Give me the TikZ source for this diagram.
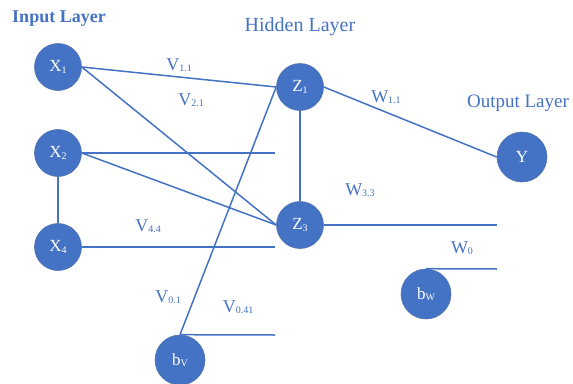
\documentclass[tikz,border=0pt]{standalone}
\usepackage{fontspec}
\setmainfont{Liberation Serif}
\definecolor{nnblue}{HTML}{4472C4}
\newcommand{\sbx}[1]{\raisebox{-1.5pt}{\fontsize{10}{10}\selectfont #1}}
\begin{document}
\begin{tikzpicture}[x=1pt,y=-1pt,
  neuron/.style={circle,fill=nnblue,draw=nnblue!70!gray,line width=0.6pt,minimum size=47pt,inner sep=0pt,text=white,font=\fontsize{17}{18}\selectfont},
  conn/.style={draw=nnblue,line width=1.5pt},
  title/.style={text=nnblue,font=\fontsize{20}{22}\selectfont},
  wlabel/.style={text=nnblue,font=\fontsize{18}{19}\selectfont,inner sep=0pt}]
\useasboundingbox (0,0) rectangle (573,383);
% layer titles
\node[title,font=\fontsize{18}{20}\selectfont\bfseries] (tin) at (59,19) {Input Layer};
\node[title] (thid) at (300,27) {Hidden Layer};
\node[title,font=\fontsize{19}{21}\selectfont,inner sep=1pt] (tout) at (518,103) {Output Layer};
% neurons
\node[neuron] (X1) at (58,67) {X\sbx{1}};
\node[neuron] (X2) at (58,153) {X\sbx{2}};
\node[neuron] (X4) at (58,247) {X\sbx{4}};
\node[neuron] (Z1) at (300,87) {Z\sbx{1}};
\node[neuron] (Z3) at (300,225) {Z\sbx{3}};
\node[neuron,minimum size=50pt] (Y) at (522,157) {Y};
\node[neuron,minimum size=50pt] (bw) at (426,294) {b\sbx{W}};
\node[neuron,minimum size=50pt] (bv) at (180,360) {b\sbx{V}};
% free ends
\coordinate (e2) at (275,153);
\coordinate (e4) at (275,247);
\coordinate (ev) at (275,335);
\coordinate (ez) at (497,225);
\coordinate (eb) at (497,269);
% connectors
\draw[conn] (X1.east) -- (Z1.west);
\draw[conn] (X1.east) -- (Z3.west);
\draw[conn] (X2.east) -- (e2);
\draw[conn] (X2.east) -- (Z3.west);
\draw[conn] (X2.south) -- (X4.north);
\draw[conn] (X4.east) -- (e4);
\draw[conn] (Z1.south) -- (Z3.north);
\draw[conn] (bv.north) -- (Z1.west);
\draw[conn] (bv.north) -- (ev);
\draw[conn] (Z1.east) -- (Y.west);
\draw[conn] (Z3.east) -- (ez);
\draw[conn] (bw.north) -- (eb);
% weight labels
\node[wlabel] (lv11) at (179,65) {V\sbx{1.1}};
\node[wlabel] (lv21) at (191,100) {V\sbx{2.1}};
\node[wlabel] (lw11) at (386,97) {W\sbx{1.1}};
\node[wlabel] (lw33) at (360,190) {W\sbx{3.3}};
\node[wlabel] (lv44) at (148,226) {V\sbx{4.4}};
\node[wlabel] (lw0) at (462,248) {W\sbx{0}};
\node[wlabel] (lv01) at (168,297) {V\sbx{0.1}};
\node[wlabel] (lv041) at (238,307) {V\sbx{0.41}};
\end{tikzpicture}
\end{document}
